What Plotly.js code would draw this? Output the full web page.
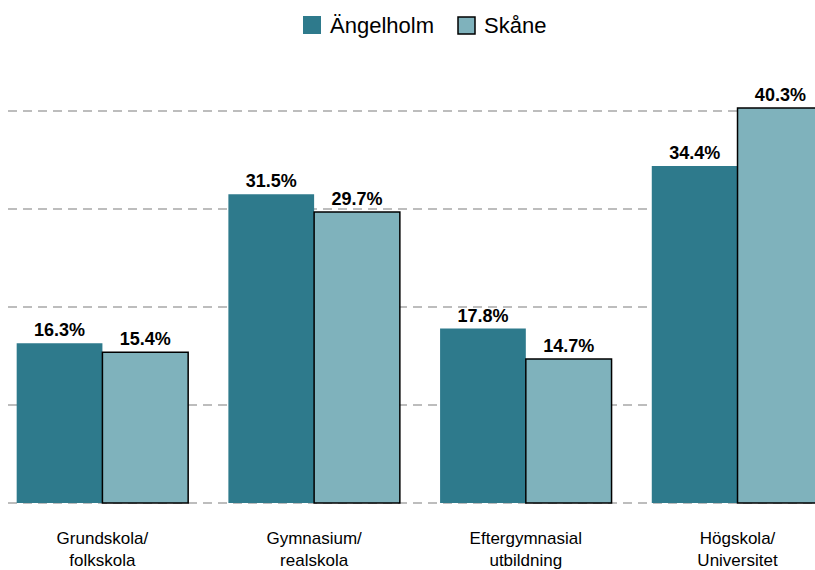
<!DOCTYPE html>
<html>
<head>
<meta charset="utf-8">
<script src="https://cdn.plot.ly/plotly-3.0.1.min.js"></script>
<style>html,body{margin:0;padding:0;background:#fff}#chart{width:815px;height:570px}</style>
</head>
<body>
<div id="chart"></div>
<script>
const categories = ["Grundskola/<br>folkskola", "Gymnasium/<br>realskola", "Eftergymnasial<br>utbildning", "Högskola/<br>Universitet"];
const seriesNames = ["Ängelholm", "Skåne"];
const angelholm = [16.3, 31.5, 17.8, 34.4];
const skane = [15.4, 29.7, 14.7, 40.3];
const colors = ["#2e7a8c", "#7fb2bc"];

const W = 815, H = 570;
const M = {l: 8, r: 0, t: 62, b: 62};
const pw = W - M.l - M.r, ph = H - M.t - M.b;
const px = x => (x - M.l) / pw;
const py = y => (H - M.b - y) / ph;

const fmt = v => v.toFixed(1) + "%";
const labelFont = {family: "Liberation Sans, Arial, sans-serif", size: 18, color: "#000", weight: "bold"};
const traces = [
  {type: "bar", name: seriesNames[0], x: categories, y: angelholm,
   marker: {color: colors[0], line: {width: 0}},
   text: angelholm.map(fmt), textposition: "outside", cliponaxis: false,
   textfont: labelFont, showlegend: false, hoverinfo: "none"},
  {type: "bar", name: seriesNames[1], x: categories, y: skane,
   marker: {color: colors[1], line: {width: 1.5, color: "#000"}},
   text: skane.map(fmt), textposition: "outside", cliponaxis: false,
   textfont: labelFont, showlegend: false, hoverinfo: "none"}
];

const shapes = [
  {type: "rect", xref: "paper", yref: "paper", x0: px(303), x1: px(321), y0: py(34), y1: py(16),
   fillcolor: colors[0], line: {width: 0}},
  {type: "rect", xref: "paper", yref: "paper", x0: px(458), x1: px(475), y0: py(34), y1: py(17),
   fillcolor: colors[1], line: {width: 1.5, color: "#000"}}
];
const annotations = [
  {xref: "paper", yref: "paper", x: px(328), y: py(25), xanchor: "left", yanchor: "middle", showarrow: false,
   text: seriesNames[0], font: {family: "Liberation Sans, Arial, sans-serif", size: 22, color: "#000"}},
  {xref: "paper", yref: "paper", x: px(482), y: py(25), xanchor: "left", yanchor: "middle", showarrow: false,
   text: seriesNames[1], font: {family: "Liberation Sans, Arial, sans-serif", size: 22, color: "#000"}}
];

const layout = {
  width: W, height: H,
  margin: M,
  paper_bgcolor: "#fff", plot_bgcolor: "#fff",
  barmode: "group", bargap: 0.19, bargroupgap: 0,
  showlegend: false,
  xaxis: {type: "category", range: [-0.446, 3.366], showgrid: false, zeroline: false, showline: false,
          ticks: "", ticklabelstandoff: 18,
          tickfont: {family: "Liberation Sans, Arial, sans-serif", size: 17, color: "#000"}},
  yaxis: {range: [-0.5, 45], dtick: 10, tick0: 0, showticklabels: false, zeroline: false, showline: false,
          showgrid: true, gridcolor: "#bdbdbd", gridwidth: 1.5, griddash: "9px,6px"},
  shapes: shapes, annotations: annotations
};
Plotly.newPlot("chart", traces, layout, {displayModeBar: false, staticPlot: true});
</script>
</body>
</html>
